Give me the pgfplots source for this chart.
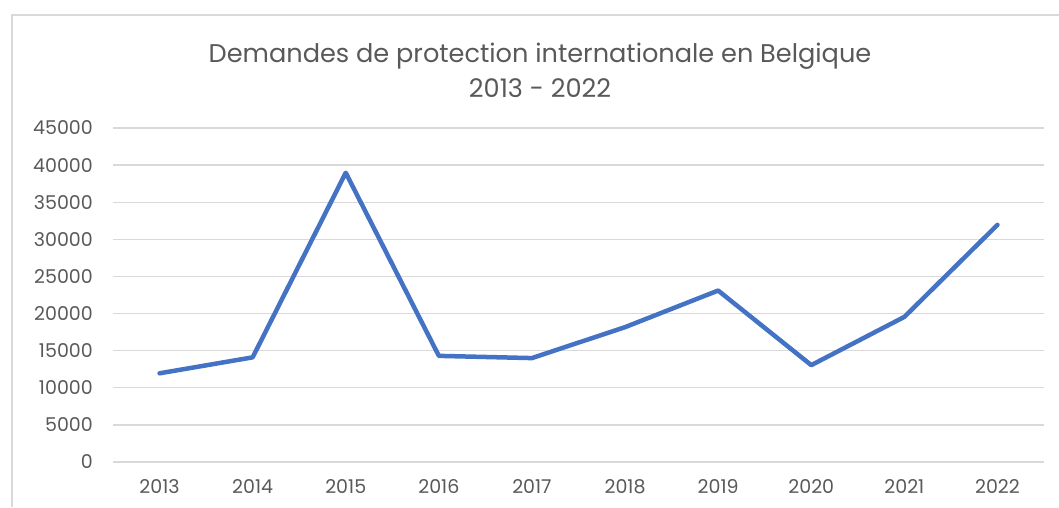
\documentclass[border=0pt]{standalone}
\usepackage{fontspec}
\setmainfont{Poppins}
\usepackage{pgfplots}
\pgfplotsset{compat=1.18}
\definecolor{txtc}{HTML}{595959}
\definecolor{gridc}{HTML}{D9D9D9}
\definecolor{linec}{HTML}{4472C4}
\begin{document}
\begin{tikzpicture}[x=1pt,y=1pt]
\useasboundingbox (0,0) rectangle (1059,507);
\draw[gridc, line width=1.2pt] (12,0) -- (12,492) -- (1059,492);
\node[txtc, align=center, font=\fontsize{25.6}{35}\selectfont] at (540,437) {Demandes de protection internationale en Belgique\\2013 - 2022};
\begin{axis}[
  at={(113pt,45pt)}, anchor=south west,
  scale only axis, width=931pt, height=334pt,
  xmin=-0.5, xmax=9.5, ymin=0, ymax=45000,
  xtick={0,...,9},
  xticklabels={2013,2014,2015,2016,2017,2018,2019,2020,2021,2022},
  ytick={0,5000,...,45000},
  scaled y ticks=false,
  /pgf/number format/assume math mode=true,
  yticklabel={\pgfmathprintnumber[fixed,1000 sep={}]{\tick}},
  axis line style={draw=none},
  major tick style={draw=none},
  xmajorgrids=false,
  ymajorgrids=true,
  y grid style={gridc, line width=1.3pt},
  tick label style={txtc, font=\fontsize{19}{21}\selectfont, inner sep=0pt},
  y tick label style={anchor=east, xshift=-20pt},
  x tick label style={anchor=north, yshift=-17pt},
  clip=false,
]
\addplot[linec, line width=4.5pt, line join=round, line cap=round] coordinates {
(0,11950) (1,14100) (2,38970) (3,14300) (4,14000) (5,18170) (6,23100) (7,13050) (8,19550) (9,31950)
};
\end{axis}
\end{tikzpicture}
\end{document}
